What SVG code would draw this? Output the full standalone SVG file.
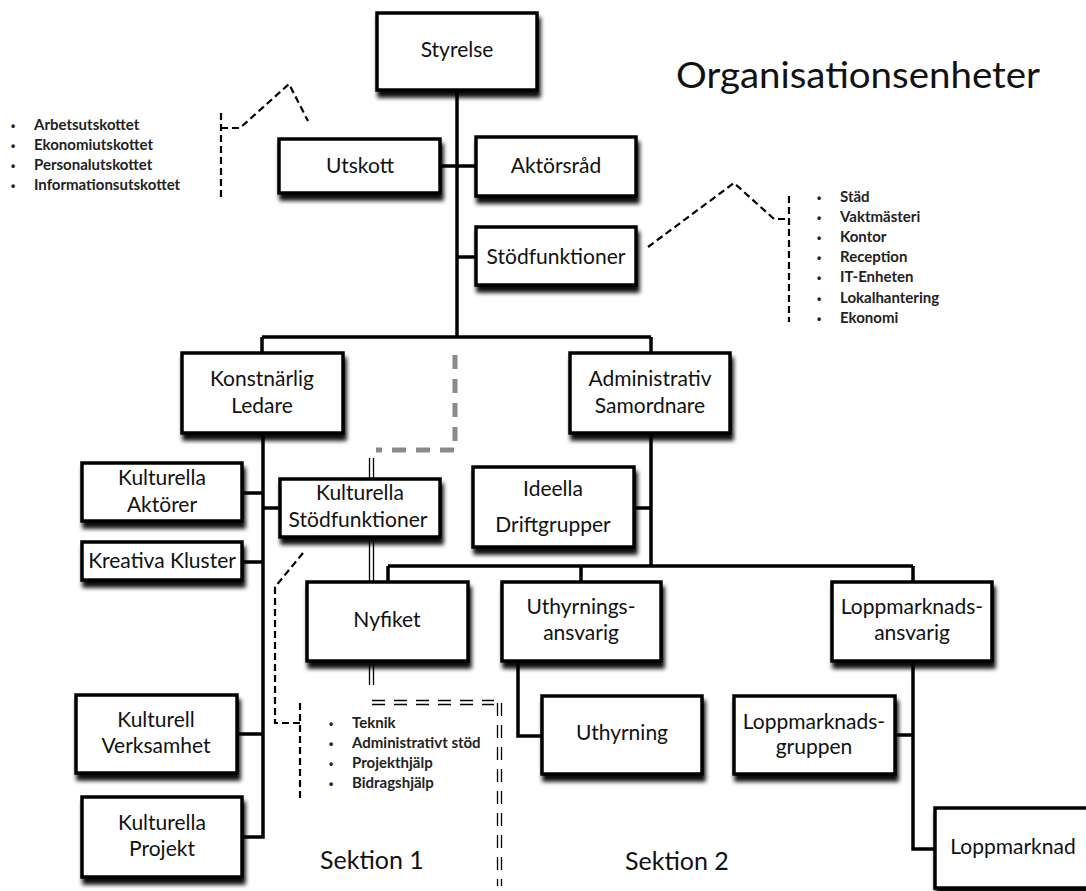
<svg xmlns="http://www.w3.org/2000/svg" width="1086" height="891" viewBox="0 0 1086 891">
  <defs>
    <filter id="shadow" x="-10%" y="-10%" width="130%" height="140%">
      <feDropShadow dx="2" dy="6" stdDeviation="2.2" flood-color="#000" flood-opacity="0.95"/>
    </filter>
  </defs>
  <style>
    .box { fill: #fff; stroke: #000; stroke-width: 3.5; filter: url(#shadow); }
    .lbl { font-family: Lato, "Open Sans", "Liberation Sans", sans-serif; font-size: 21px; fill: #111; text-anchor: middle; }
    .title { font-family: Lato, "Open Sans", "Liberation Sans", sans-serif; font-size: 36px; fill: #111; }
    .sek { font-family: Lato, "Open Sans", "Liberation Sans", sans-serif; font-size: 25px; fill: #111; }
    .li { font-family: Lato, "Open Sans", "Liberation Sans", sans-serif; font-size: 15px; font-weight: bold; fill: #222; }
    .bul { font-family: "Liberation Sans", sans-serif; font-size: 12px; font-weight: bold; fill: #222; }
    .solid { fill: none; stroke: #000; stroke-width: 3.5; }
    .dash { fill: none; stroke: #000; stroke-width: 2.2; stroke-dasharray: 7 4; }
    .gray { fill: none; stroke: #8a8a8a; stroke-width: 5; stroke-dasharray: 14 10; }
    .thin { fill: none; stroke: #000; stroke-width: 1.3; }
    .thindash { fill: none; stroke: #000; stroke-width: 1.3; stroke-dasharray: 13 9; }
  </style>

  <!-- Headline and section captions -->
  <text class="title" x="676" y="88" textLength="364" lengthAdjust="spacingAndGlyphs">Organisationsenheter</text>
  <text class="sek" x="320" y="869">Sektion 1</text>
  <text class="sek" x="625" y="870">Sektion 2</text>

  <!-- Connectors -->
  <g id="connectors">
    <!-- main tree lines -->
    <path class="solid" d="M457 90 V337"/>
    <path class="solid" d="M440 166 H476"/>
    <path class="solid" d="M457 257 H476"/>
    <path class="solid" d="M262 337 H651 M262 337 V353 M651 337 V353"/>
    <!-- under Konstnärlig Ledare -->
    <path class="solid" d="M263 433 V837 H242"/>
    <path class="solid" d="M242 493 H263 M263 508 H280 M242 562 H263 M237 734 H263"/>
    <!-- under Administrativ Samordnare -->
    <path class="solid" d="M651 433 V566"/>
    <path class="solid" d="M634 508 H651"/>
    <path class="solid" d="M388 566 H913 M388 566 V582 M581 566 V582 M913 566 V582"/>
    <path class="solid" d="M518 661 V736 H542"/>
    <path class="solid" d="M913 661 V849 H935 M895 735 H913"/>

    <!-- dashed callouts -->
    <path class="dash" d="M221 113 V197"/>
    <path class="dash" d="M221 128 H240 L289 84 L308 121"/>
    <path class="dash" d="M648 247 L734 183 L774 219 H789"/>
    <path class="dash" d="M789 196 V322"/>
    <path class="dash" d="M303 553 L275 587 V723 H300"/>
    <path class="dash" d="M300 703 V802"/>

    <!-- grey dotted relation -->
    <path class="gray" d="M455 355 V450 H376"/>

    <!-- double lines -->
    <path class="thin" d="M369.5 458 V479 M373.5 458 V479"/>
    <path class="thin" d="M369.5 540 V582 M373.5 540 V582"/>
    <path class="thin" d="M369.5 664 V685 M373.5 664 V685"/>
    <path class="thindash" d="M372 700.5 H494 M372 704.5 H494"/>
    <path class="thindash" d="M497.5 703 V886 M501.5 703 V886"/>
  </g>

  <!-- Nodes -->
  <g id="styrelse"><rect class="box" x="377" y="13" width="160" height="77"/><text class="lbl" x="457" y="57">Styrelse</text></g>
  <g id="utskott"><rect class="box" x="279" y="139" width="161" height="54"/><text class="lbl" x="360" y="173">Utskott</text></g>
  <g id="aktorsrad"><rect class="box" x="476" y="137" width="160" height="59"/><text class="lbl" x="556" y="173">Aktörsråd</text></g>
  <g id="stodfunktioner"><rect class="box" x="476" y="227" width="160" height="58"/><text class="lbl" x="556" y="264">Stödfunktioner</text></g>
  <g id="konstnarlig"><rect class="box" x="182" y="353" width="161" height="80"/><text class="lbl" x="262" y="386">Konstnärlig</text><text class="lbl" x="262" y="413">Ledare</text></g>
  <g id="administrativ"><rect class="box" x="570" y="353" width="160" height="80"/><text class="lbl" x="650" y="386">Administrativ</text><text class="lbl" x="650" y="413">Samordnare</text></g>
  <g id="kulturella-aktorer"><rect class="box" x="82" y="463" width="160" height="58"/><text class="lbl" x="162" y="485">Kulturella</text><text class="lbl" x="162" y="512">Aktörer</text></g>
  <g id="kulturella-stod"><rect class="box" x="280" y="479" width="160" height="58"/><text class="lbl" x="360" y="500">Kulturella</text><text class="lbl" x="358" y="527">Stödfunktioner</text></g>
  <g id="kreativa"><rect class="box" x="82" y="542" width="160" height="38"/><text class="lbl" x="162" y="568">Kreativa Kluster</text></g>
  <g id="ideella"><rect class="box" x="473" y="467" width="161" height="80"/><text class="lbl" x="553" y="496">Ideella</text><text class="lbl" x="553" y="532">Driftgrupper</text></g>
  <g id="nyfiket"><rect class="box" x="307" y="582" width="161" height="79"/><text class="lbl" x="387" y="627">Nyfiket</text></g>
  <g id="uthyrningsansvarig"><rect class="box" x="502" y="582" width="159" height="79"/><text class="lbl" x="581" y="614">Uthyrnings-</text><text class="lbl" x="581" y="640">ansvarig</text></g>
  <g id="loppmarknadsansvarig"><rect class="box" x="832" y="582" width="160" height="79"/><text class="lbl" x="912" y="614">Loppmarknads-</text><text class="lbl" x="912" y="640">ansvarig</text></g>
  <g id="kulturell-verksamhet"><rect class="box" x="76" y="695" width="161" height="78"/><text class="lbl" x="156" y="727">Kulturell</text><text class="lbl" x="156" y="753">Verksamhet</text></g>
  <g id="uthyrning"><rect class="box" x="542" y="696" width="160" height="78"/><text class="lbl" x="622" y="740">Uthyrning</text></g>
  <g id="loppmarknadsgruppen"><rect class="box" x="734" y="696" width="161" height="78"/><text class="lbl" x="814" y="729">Loppmarknads-</text><text class="lbl" x="814" y="754">gruppen</text></g>
  <g id="kulturella-projekt"><rect class="box" x="82" y="797" width="160" height="80"/><text class="lbl" x="162" y="830">Kulturella</text><text class="lbl" x="162" y="856">Projekt</text></g>
  <g id="loppmarknad"><rect class="box" x="935" y="808" width="170" height="80"/><text class="lbl" x="1013" y="854">Loppmarknad</text></g>

  <!-- Bullet lists -->
  <g id="list-utskott">
    <text class="bul" x="11" y="130">•</text><text class="li" x="34" y="130">Arbetsutskottet</text>
    <text class="bul" x="11" y="150">•</text><text class="li" x="34" y="150">Ekonomiutskottet</text>
    <text class="bul" x="11" y="170">•</text><text class="li" x="34" y="170">Personalutskottet</text>
    <text class="bul" x="11" y="190">•</text><text class="li" x="34" y="190">Informationsutskottet</text>
  </g>
  <g id="list-stod">
    <text class="bul" x="817" y="202">•</text><text class="li" x="840" y="202">Städ</text>
    <text class="bul" x="817" y="222">•</text><text class="li" x="840" y="222">Vaktmästeri</text>
    <text class="bul" x="817" y="242">•</text><text class="li" x="840" y="242">Kontor</text>
    <text class="bul" x="817" y="262">•</text><text class="li" x="840" y="262">Reception</text>
    <text class="bul" x="817" y="282">•</text><text class="li" x="840" y="282">IT-Enheten</text>
    <text class="bul" x="817" y="303">•</text><text class="li" x="840" y="303">Lokalhantering</text>
    <text class="bul" x="817" y="323">•</text><text class="li" x="840" y="323">Ekonomi</text>
  </g>
  <g id="list-kulturella-stod">
    <text class="bul" x="329" y="728">•</text><text class="li" x="352" y="728">Teknik</text>
    <text class="bul" x="329" y="748">•</text><text class="li" x="352" y="748">Administrativt stöd</text>
    <text class="bul" x="329" y="768">•</text><text class="li" x="352" y="768">Projekthjälp</text>
    <text class="bul" x="329" y="788">•</text><text class="li" x="352" y="788">Bidragshjälp</text>
  </g>
</svg>
